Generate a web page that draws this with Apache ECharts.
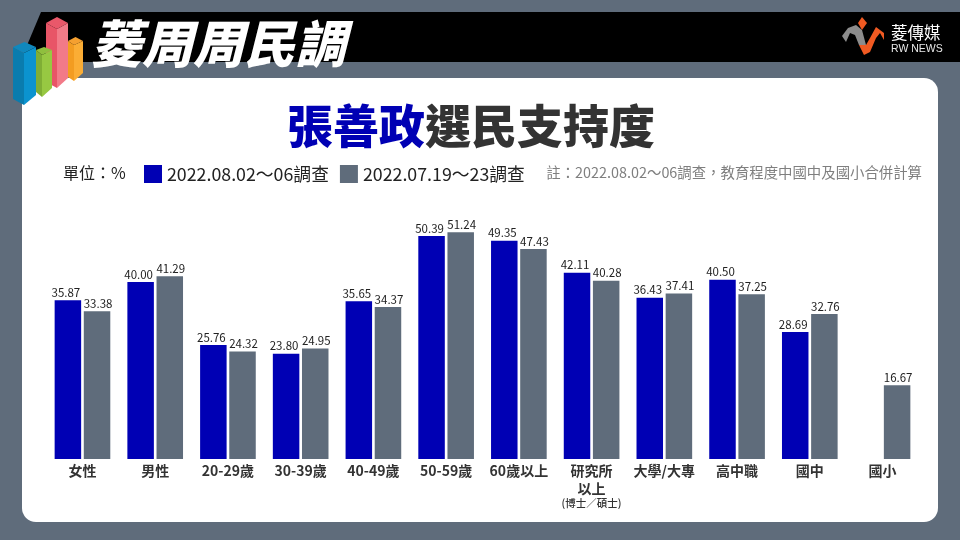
<!DOCTYPE html>
<html><head><meta charset="utf-8">
<style>html,body{margin:0;padding:0;background:#5f6c7b}#c{width:960px;height:540px}</style>
<script src="https://cdn.jsdelivr.net/npm/echarts@6/dist/echarts.min.js"></script>
</head><body><div id="c"></div>
<script>
const categories = ['女性','男性','20-29歲','30-39歲','40-49歲','50-59歲','60歲以上','研究所\n以上\n{s|(博士／碩士)}','大學/大專','高中職','國中','國小'];
const latest = [35.87,40.00,25.76,23.80,35.65,50.39,49.35,42.11,36.43,40.50,28.69,null];
const previous = [33.38,41.29,24.32,24.95,34.37,51.24,47.43,40.28,37.41,37.25,32.76,16.67];
const seriesNames = ['2022.08.02～06調查','2022.07.19～23調查'];
const FONT = '"Noto Sans CJK TC","Noto Sans",sans-serif';
const BLUE = '#0000b4', GREY = '#5f6c7b', DARK = '#333333';

function poly(points, fill, z){ return {type:'polygon',z:z,silent:true,shape:{points},style:{fill}}; }
function box3d(xl,xn,xr,yBack,ySide,yNear,drop,left,right,cap,z){
  return [
    poly([[xl,ySide],[xn,yNear],[xn,yNear+drop],[xl,ySide+drop]],left,z),
    poly([[xn,yNear],[xr,ySide],[xr,ySide+drop-4],[xn,yNear+drop]],right,z),
    poly([[xl,ySide],[xn+(xr-xl)/2-(xn-xl),yBack],[xr,ySide],[xn,yNear]],cap,z)
  ];
}
const chart = echarts.init(document.getElementById('c'));
chart.setOption({
  animation:false,
  backgroundColor:GREY,
  textStyle:{fontFamily:FONT},
  title:[
    {text:'{a|張善政}{b|選民支持度}',left:287,top:103,padding:0,
     textStyle:{rich:{a:{fontSize:46,fontWeight:900,color:BLUE,fontFamily:FONT},b:{fontSize:46,fontWeight:900,color:'#333333',fontFamily:FONT}}}},
    {text:'單位：%',left:63,top:165,padding:0,textStyle:{fontSize:16,fontWeight:400,color:'#222',fontFamily:FONT}},
    {text:'註：2022.08.02～06調查，教育程度中國中及國小合併計算',right:38,top:165,padding:0,textStyle:{fontSize:14.4,fontWeight:400,color:'#7f7f7f',fontFamily:FONT}}
  ],
  legend:{left:144,top:165,itemWidth:18,itemHeight:18,itemGap:11,padding:0,icon:'rect',
    textStyle:{fontSize:17.8,color:'#222',fontFamily:FONT,padding:[0,0,0,0]},data:seriesNames},
  grid:{left:46.1,right:41.1,top:193.5,bottom:81},
  xAxis:{type:'category',data:categories,
    axisLine:{show:false},axisTick:{show:false},
    axisLabel:{interval:0,color:DARK,fontSize:14,fontWeight:700,margin:3,lineHeight:18,fontFamily:FONT,
      rich:{s:{fontSize:10.5,fontWeight:500,color:DARK,lineHeight:11,fontFamily:FONT}}}},
  yAxis:{type:'value',min:0,max:60,show:false,splitLine:{show:false}},
  series:[
    {name:seriesNames[0],type:'bar',data:latest,barWidth:26.5,barGap:'10%',itemStyle:{color:BLUE},
     label:{show:true,position:'top',distance:2,offset:[-2,0],fontSize:11.5,color:'#222',fontFamily:FONT,formatter:p=>p.value==null?'':p.value.toFixed(2)}},
    {name:seriesNames[1],type:'bar',data:previous,barWidth:26.5,itemStyle:{color:GREY},
     label:{show:true,position:'top',distance:2,offset:[1,0],fontSize:11.5,color:'#222',fontFamily:FONT,formatter:p=>p.value.toFixed(2)}}
  ],
  graphic:[
    {type:'rect',z:-10,silent:true,shape:{x:22,y:78,width:916,height:444,r:14},style:{fill:'#ffffff'}},
    poly([[41,12],[960,12],[960,62],[20,62]],'#000000',-9),
    {type:'text',z:5,silent:true,left:91,top:18,style:{text:'菱周周民調',fill:'#ffffff',
      font:'italic 900 51px "Noto Sans CJK TC"',shadowColor:'rgba(0,0,0,0.7)',shadowBlur:3,shadowOffsetX:4,shadowOffsetY:4}},
    ...box3d(46,57,68,17,23,29,59,'#e85567','#f27a88','#e9586a',4),
    ...box3d(68,74,83,37,41,45,36,'#f39c21','#fbad35','#f5a030',3),
    ...box3d(36,42,52,47,50,55,42,'#7fae35','#97c842','#8fbf3e',5),
    ...box3d(13,24,36,42,47,53,52,'#0a7cae','#0b93cf','#1088bd',6),
    // RW News logo
    poly([[842,36],[848,28],[856,25],[862,30],[866,45],[859,45],[855,35],[850,33],[846,42]],'#8c8c8c',5),
    poly([[859,45],[866,45],[870,38],[876,27],[884,33],[884,40],[880,33],[876,38],[870,52],[864,55]],'#f05a22',5),
    poly([[862,17],[867,23],[862,30],[858,23]],'#f05a22',5),
    {type:'text',z:5,silent:true,left:891,top:24,style:{text:'菱傳媒',fill:'#ffffff',font:'400 16.5px "Noto Sans CJK TC"'}},
    {type:'text',z:5,silent:true,left:891,top:44,style:{text:'RW NEWS',fill:'#e8e8e8',font:'400 10.5px "Liberation Sans"'}}
  ]
});
</script></body></html>
